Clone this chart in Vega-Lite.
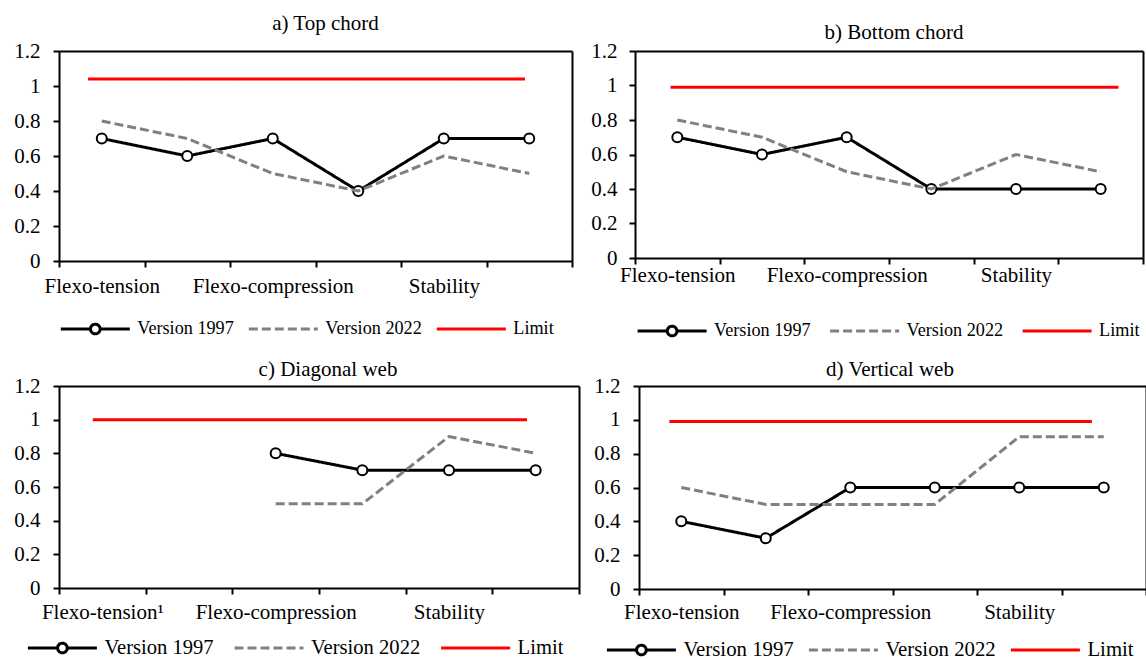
{
  "$schema": "https://vega.github.io/schema/vega-lite/v6.json",
  "background": "white",
  "padding": {"left": 13, "top": 12, "right": 0, "bottom": 0},
  "datasets": {
    "rows": [
      {"panel": "a", "series": "Version 1997", "x": 0.5, "y": 0.7},
      {"panel": "a", "series": "Version 1997", "x": 1.5, "y": 0.6},
      {"panel": "a", "series": "Version 1997", "x": 2.5, "y": 0.7},
      {"panel": "a", "series": "Version 1997", "x": 3.5, "y": 0.4},
      {"panel": "a", "series": "Version 1997", "x": 4.5, "y": 0.7},
      {"panel": "a", "series": "Version 1997", "x": 5.5, "y": 0.7},
      {"panel": "a", "series": "Version 2022", "x": 0.5, "y": 0.8},
      {"panel": "a", "series": "Version 2022", "x": 1.5, "y": 0.7},
      {"panel": "a", "series": "Version 2022", "x": 2.5, "y": 0.5},
      {"panel": "a", "series": "Version 2022", "x": 3.5, "y": 0.4},
      {"panel": "a", "series": "Version 2022", "x": 4.5, "y": 0.6},
      {"panel": "a", "series": "Version 2022", "x": 5.5, "y": 0.5},
      {"panel": "a", "series": "Limit", "x": 0.34, "y": 1.04},
      {"panel": "a", "series": "Limit", "x": 5.45, "y": 1.04},
      {"panel": "b", "series": "Version 1997", "x": 0.5, "y": 0.7},
      {"panel": "b", "series": "Version 1997", "x": 1.5, "y": 0.6},
      {"panel": "b", "series": "Version 1997", "x": 2.5, "y": 0.7},
      {"panel": "b", "series": "Version 1997", "x": 3.5, "y": 0.4},
      {"panel": "b", "series": "Version 1997", "x": 4.5, "y": 0.4},
      {"panel": "b", "series": "Version 1997", "x": 5.5, "y": 0.4},
      {"panel": "b", "series": "Version 2022", "x": 0.5, "y": 0.8},
      {"panel": "b", "series": "Version 2022", "x": 1.5, "y": 0.7},
      {"panel": "b", "series": "Version 2022", "x": 2.5, "y": 0.5},
      {"panel": "b", "series": "Version 2022", "x": 3.5, "y": 0.4},
      {"panel": "b", "series": "Version 2022", "x": 4.5, "y": 0.6},
      {"panel": "b", "series": "Version 2022", "x": 5.5, "y": 0.5},
      {"panel": "b", "series": "Limit", "x": 0.42, "y": 0.99},
      {"panel": "b", "series": "Limit", "x": 5.71, "y": 0.99},
      {"panel": "c", "series": "Version 1997", "x": 2.5, "y": 0.8},
      {"panel": "c", "series": "Version 1997", "x": 3.5, "y": 0.7},
      {"panel": "c", "series": "Version 1997", "x": 4.5, "y": 0.7},
      {"panel": "c", "series": "Version 1997", "x": 5.5, "y": 0.7},
      {"panel": "c", "series": "Version 2022", "x": 2.5, "y": 0.5},
      {"panel": "c", "series": "Version 2022", "x": 3.5, "y": 0.5},
      {"panel": "c", "series": "Version 2022", "x": 4.5, "y": 0.9},
      {"panel": "c", "series": "Version 2022", "x": 5.5, "y": 0.8},
      {"panel": "c", "series": "Limit", "x": 0.39, "y": 1.0},
      {"panel": "c", "series": "Limit", "x": 5.4, "y": 1.0},
      {"panel": "d", "series": "Version 1997", "x": 0.5, "y": 0.4},
      {"panel": "d", "series": "Version 1997", "x": 1.5, "y": 0.3},
      {"panel": "d", "series": "Version 1997", "x": 2.5, "y": 0.6},
      {"panel": "d", "series": "Version 1997", "x": 3.5, "y": 0.6},
      {"panel": "d", "series": "Version 1997", "x": 4.5, "y": 0.6},
      {"panel": "d", "series": "Version 1997", "x": 5.5, "y": 0.6},
      {"panel": "d", "series": "Version 2022", "x": 0.5, "y": 0.6},
      {"panel": "d", "series": "Version 2022", "x": 1.5, "y": 0.5},
      {"panel": "d", "series": "Version 2022", "x": 2.5, "y": 0.5},
      {"panel": "d", "series": "Version 2022", "x": 3.5, "y": 0.5},
      {"panel": "d", "series": "Version 2022", "x": 4.5, "y": 0.9},
      {"panel": "d", "series": "Version 2022", "x": 5.5, "y": 0.9},
      {"panel": "d", "series": "Limit", "x": 0.36, "y": 0.99},
      {"panel": "d", "series": "Limit", "x": 5.36, "y": 0.99}
    ]
  },
  "data": {"name": "rows"},
  "bounds": "full",
  "spacing": 18,
  "resolve": {"legend": {"color": "independent", "strokeDash": "independent"}, "axis": {"x": "independent", "y": "independent"}},
  "vconcat": [
    {
      "hconcat": [
        {
          "width": 513, "height": 210,
          "title": {"text": "a) Top chord", "offset": 6.5, "dx": 10},
          "transform": [{"filter": "datum.panel == 'a'"}],
          "resolve": {"axis": {"x": "independent", "y": "independent"}},
          "layer": [
            {"transform": [{"filter": "datum.series == 'Version 1997'"}],
             "mark": {"type": "line", "strokeWidth": 3},
             "encoding": {
               "x": {"field": "x", "type": "quantitative", "scale": {"domain": [0, 6], "nice": false, "zero": false},
                     "axis": {"title": null, "values": [0, 1, 2, 3, 4, 5, 6], "labelExpr": "datum.value == 0 ? 'Flexo-tension' : datum.value == 2 ? 'Flexo-compression' : datum.value == 4 ? 'Stability' : ''", "labelOffset": 42.8, "labelPadding": 8, "labelOverlap": false, "labelFlush": false, "labelBound": false}},
               "y": {"field": "y", "type": "quantitative", "scale": {"domain": [0, 1.2], "nice": false},
                     "axis": {"title": null, "values": [0, 0.2, 0.4, 0.6, 0.8, 1, 1.2], "format": "~g", "labelPadding": 13}},
               "color": {"field": "series", "type": "nominal", "scale": {"domain": ["Version 1997", "Version 2022", "Limit"], "range": ["#000000", "#808080", "#ff0000"]},
                 "legend": {"title": null, "orient": "none", "legendX": 0.3, "legendY": 268, "direction": "horizontal", "symbolType": "stroke", "symbolSize": 4761, "symbolStrokeWidth": 3, "clipHeight": 20, "labelFontSize": 18.2, "labelOffset": 6, "columnPadding": 13, "padding": 0,
                   "encode": {"symbols": {"update": {"shape": {"signal": "datum.value == 'Version 1997' ? 'M-1,0H-0.14M0.14,0H1M0.14,0A0.14,0.14,0,1,1,-0.14,0A0.14,0.14,0,1,1,0.14,0' : 'M-1,0H1'"}, "fill": {"value": "white"}}}}}},
               "strokeDash": {"field": "series", "type": "nominal", "scale": {"domain": ["Version 1997", "Version 2022", "Limit"], "range": [[1, 0], [9, 4], [1, 0]]},
                 "legend": {"title": null, "orient": "none", "legendX": 0.3, "legendY": 268, "direction": "horizontal", "symbolType": "stroke", "symbolSize": 4761, "symbolStrokeWidth": 3, "clipHeight": 20, "labelFontSize": 18.2, "labelOffset": 6, "columnPadding": 13, "padding": 0,
                   "encode": {"symbols": {"update": {"shape": {"signal": "datum.value == 'Version 1997' ? 'M-1,0H-0.14M0.14,0H1M0.14,0A0.14,0.14,0,1,1,-0.14,0A0.14,0.14,0,1,1,0.14,0' : 'M-1,0H1'"}, "fill": {"value": "white"}}}}}}
             }},
            {"transform": [{"filter": "datum.series == 'Version 1997'"}],
             "mark": {"type": "point", "shape": "circle", "filled": false, "fill": "white", "stroke": "black", "strokeWidth": 2, "size": 100, "opacity": 1},
             "encoding": {
               "x": {"field": "x", "type": "quantitative", "axis": {"orient": "top", "title": null, "labels": false, "ticks": false, "domain": true}},
               "y": {"field": "y", "type": "quantitative", "axis": {"orient": "right", "title": null, "labels": false, "ticks": false, "domain": true}}
             }},
            {"transform": [{"filter": "datum.series != 'Version 1997'"}],
             "mark": {"type": "line", "strokeWidth": 3},
             "encoding": {
               "x": {"field": "x", "type": "quantitative", "axis": null},
               "y": {"field": "y", "type": "quantitative", "axis": null},
               "color": {"field": "series", "type": "nominal", "scale": {"domain": ["Version 1997", "Version 2022", "Limit"], "range": ["#000000", "#808080", "#ff0000"]},
                 "legend": {"title": null, "orient": "none", "legendX": 0.3, "legendY": 268, "direction": "horizontal", "symbolType": "stroke", "symbolSize": 4761, "symbolStrokeWidth": 3, "clipHeight": 20, "labelFontSize": 18.2, "labelOffset": 6, "columnPadding": 13, "padding": 0,
                   "encode": {"symbols": {"update": {"shape": {"signal": "datum.value == 'Version 1997' ? 'M-1,0H-0.14M0.14,0H1M0.14,0A0.14,0.14,0,1,1,-0.14,0A0.14,0.14,0,1,1,0.14,0' : 'M-1,0H1'"}, "fill": {"value": "white"}}}}}},
               "strokeDash": {"field": "series", "type": "nominal", "scale": {"domain": ["Version 1997", "Version 2022", "Limit"], "range": [[1, 0], [9, 4], [1, 0]]},
                 "legend": {"title": null, "orient": "none", "legendX": 0.3, "legendY": 268, "direction": "horizontal", "symbolType": "stroke", "symbolSize": 4761, "symbolStrokeWidth": 3, "clipHeight": 20, "labelFontSize": 18.2, "labelOffset": 6, "columnPadding": 13, "padding": 0,
                   "encode": {"symbols": {"update": {"shape": {"signal": "datum.value == 'Version 1997' ? 'M-1,0H-0.14M0.14,0H1M0.14,0A0.14,0.14,0,1,1,-0.14,0A0.14,0.14,0,1,1,0.14,0' : 'M-1,0H1'"}, "fill": {"value": "white"}}}}}},
               "detail": {"field": "series"}
             }}
          ]
        },
        {
          "width": 508, "height": 207,
          "title": {"text": "b) Bottom chord", "offset": -2.5, "dx": 5},
          "transform": [{"filter": "datum.panel == 'b'"}],
          "resolve": {"axis": {"x": "independent", "y": "independent"}},
          "layer": [
            {"transform": [{"filter": "datum.series == 'Version 1997'"}],
             "mark": {"type": "line", "strokeWidth": 3},
             "encoding": {
               "x": {"field": "x", "type": "quantitative", "scale": {"domain": [0, 6], "nice": false, "zero": false},
                     "axis": {"title": null, "values": [0, 1, 2, 3, 4, 5, 6], "labelExpr": "datum.value == 0 ? 'Flexo-tension' : datum.value == 2 ? 'Flexo-compression' : datum.value == 4 ? 'Stability' : ''", "labelOffset": 42.3, "labelPadding": 0, "labelOverlap": false, "labelFlush": false, "labelBound": false}},
               "y": {"field": "y", "type": "quantitative", "scale": {"domain": [0, 1.2], "nice": false},
                     "axis": {"title": null, "values": [0, 0.2, 0.4, 0.6, 0.8, 1, 1.2], "format": "~g", "labelPadding": 12}},
               "color": {"field": "series", "type": "nominal", "scale": {"domain": ["Version 1997", "Version 2022", "Limit"], "range": ["#000000", "#808080", "#ff0000"]},
                 "legend": {"title": null, "orient": "none", "legendX": 1.1, "legendY": 270, "direction": "horizontal", "symbolType": "stroke", "symbolSize": 4761, "symbolStrokeWidth": 3, "clipHeight": 20, "labelFontSize": 18.2, "labelOffset": 6, "columnPadding": 17.5, "padding": 0,
                   "encode": {"symbols": {"update": {"shape": {"signal": "datum.value == 'Version 1997' ? 'M-1,0H-0.14M0.14,0H1M0.14,0A0.14,0.14,0,1,1,-0.14,0A0.14,0.14,0,1,1,0.14,0' : 'M-1,0H1'"}, "fill": {"value": "white"}}}}}},
               "strokeDash": {"field": "series", "type": "nominal", "scale": {"domain": ["Version 1997", "Version 2022", "Limit"], "range": [[1, 0], [9, 4], [1, 0]]},
                 "legend": {"title": null, "orient": "none", "legendX": 1.1, "legendY": 270, "direction": "horizontal", "symbolType": "stroke", "symbolSize": 4761, "symbolStrokeWidth": 3, "clipHeight": 20, "labelFontSize": 18.2, "labelOffset": 6, "columnPadding": 17.5, "padding": 0,
                   "encode": {"symbols": {"update": {"shape": {"signal": "datum.value == 'Version 1997' ? 'M-1,0H-0.14M0.14,0H1M0.14,0A0.14,0.14,0,1,1,-0.14,0A0.14,0.14,0,1,1,0.14,0' : 'M-1,0H1'"}, "fill": {"value": "white"}}}}}}
             }},
            {"transform": [{"filter": "datum.series == 'Version 1997'"}],
             "mark": {"type": "point", "shape": "circle", "filled": false, "fill": "white", "stroke": "black", "strokeWidth": 2, "size": 100, "opacity": 1},
             "encoding": {
               "x": {"field": "x", "type": "quantitative", "axis": {"orient": "top", "title": null, "labels": false, "ticks": false, "domain": true}},
               "y": {"field": "y", "type": "quantitative", "axis": {"orient": "right", "title": null, "labels": false, "ticks": false, "domain": true}}
             }},
            {"transform": [{"filter": "datum.series != 'Version 1997'"}],
             "mark": {"type": "line", "strokeWidth": 3},
             "encoding": {
               "x": {"field": "x", "type": "quantitative", "axis": null},
               "y": {"field": "y", "type": "quantitative", "axis": null},
               "color": {"field": "series", "type": "nominal", "scale": {"domain": ["Version 1997", "Version 2022", "Limit"], "range": ["#000000", "#808080", "#ff0000"]},
                 "legend": {"title": null, "orient": "none", "legendX": 1.1, "legendY": 270, "direction": "horizontal", "symbolType": "stroke", "symbolSize": 4761, "symbolStrokeWidth": 3, "clipHeight": 20, "labelFontSize": 18.2, "labelOffset": 6, "columnPadding": 17.5, "padding": 0,
                   "encode": {"symbols": {"update": {"shape": {"signal": "datum.value == 'Version 1997' ? 'M-1,0H-0.14M0.14,0H1M0.14,0A0.14,0.14,0,1,1,-0.14,0A0.14,0.14,0,1,1,0.14,0' : 'M-1,0H1'"}, "fill": {"value": "white"}}}}}},
               "strokeDash": {"field": "series", "type": "nominal", "scale": {"domain": ["Version 1997", "Version 2022", "Limit"], "range": [[1, 0], [9, 4], [1, 0]]},
                 "legend": {"title": null, "orient": "none", "legendX": 1.1, "legendY": 270, "direction": "horizontal", "symbolType": "stroke", "symbolSize": 4761, "symbolStrokeWidth": 3, "clipHeight": 20, "labelFontSize": 18.2, "labelOffset": 6, "columnPadding": 17.5, "padding": 0,
                   "encode": {"symbols": {"update": {"shape": {"signal": "datum.value == 'Version 1997' ? 'M-1,0H-0.14M0.14,0H1M0.14,0A0.14,0.14,0,1,1,-0.14,0A0.14,0.14,0,1,1,0.14,0' : 'M-1,0H1'"}, "fill": {"value": "white"}}}}}},
               "detail": {"field": "series"}
             }}
          ]
        }
      ],
      "bounds": "flush",
      "spacing": 63,
      "resolve": {"legend": {"color": "independent", "strokeDash": "independent"}, "axis": {"x": "independent", "y": "independent"}}
    },
    {
      "hconcat": [
        {
          "width": 520, "height": 202,
          "title": {"text": "c) Diagonal web", "offset": -5, "dx": 9},
          "transform": [{"filter": "datum.panel == 'c'"}],
          "resolve": {"axis": {"x": "independent", "y": "independent"}},
          "layer": [
            {"transform": [{"filter": "datum.series == 'Version 1997'"}],
             "mark": {"type": "line", "strokeWidth": 3},
             "encoding": {
               "x": {"field": "x", "type": "quantitative", "scale": {"domain": [0, 6], "nice": false, "zero": false},
                     "axis": {"title": null, "values": [0, 1, 2, 3, 4, 5, 6], "labelExpr": "datum.value == 0 ? 'Flexo-tension¹' : datum.value == 2 ? 'Flexo-compression' : datum.value == 4 ? 'Stability' : ''", "labelOffset": 43.3, "labelPadding": 7, "labelOverlap": false, "labelFlush": false, "labelBound": false}},
               "y": {"field": "y", "type": "quantitative", "scale": {"domain": [0, 1.2], "nice": false},
                     "axis": {"title": null, "values": [0, 0.2, 0.4, 0.6, 0.8, 1, 1.2], "format": "~g", "labelPadding": 13}},
               "color": {"field": "series", "type": "nominal", "scale": {"domain": ["Version 1997", "Version 2022", "Limit"], "range": ["#000000", "#808080", "#ff0000"]},
                 "legend": {"title": null, "orient": "none", "legendX": -32.6, "legendY": 251, "direction": "horizontal", "symbolType": "stroke", "symbolSize": 4761, "symbolStrokeWidth": 3, "clipHeight": 22, "labelFontSize": 20.6, "labelOffset": 6, "columnPadding": 18.6, "padding": 0,
                   "encode": {"symbols": {"update": {"shape": {"signal": "datum.value == 'Version 1997' ? 'M-1,0H-0.14M0.14,0H1M0.14,0A0.14,0.14,0,1,1,-0.14,0A0.14,0.14,0,1,1,0.14,0' : 'M-1,0H1'"}, "fill": {"value": "white"}}}}}},
               "strokeDash": {"field": "series", "type": "nominal", "scale": {"domain": ["Version 1997", "Version 2022", "Limit"], "range": [[1, 0], [9, 4], [1, 0]]},
                 "legend": {"title": null, "orient": "none", "legendX": -32.6, "legendY": 251, "direction": "horizontal", "symbolType": "stroke", "symbolSize": 4761, "symbolStrokeWidth": 3, "clipHeight": 22, "labelFontSize": 20.6, "labelOffset": 6, "columnPadding": 18.6, "padding": 0,
                   "encode": {"symbols": {"update": {"shape": {"signal": "datum.value == 'Version 1997' ? 'M-1,0H-0.14M0.14,0H1M0.14,0A0.14,0.14,0,1,1,-0.14,0A0.14,0.14,0,1,1,0.14,0' : 'M-1,0H1'"}, "fill": {"value": "white"}}}}}}
             }},
            {"transform": [{"filter": "datum.series == 'Version 1997'"}],
             "mark": {"type": "point", "shape": "circle", "filled": false, "fill": "white", "stroke": "black", "strokeWidth": 2, "size": 100, "opacity": 1},
             "encoding": {
               "x": {"field": "x", "type": "quantitative", "axis": {"orient": "top", "title": null, "labels": false, "ticks": false, "domain": true}},
               "y": {"field": "y", "type": "quantitative", "axis": {"orient": "right", "title": null, "labels": false, "ticks": false, "domain": true}}
             }},
            {"transform": [{"filter": "datum.series != 'Version 1997'"}],
             "mark": {"type": "line", "strokeWidth": 3},
             "encoding": {
               "x": {"field": "x", "type": "quantitative", "axis": null},
               "y": {"field": "y", "type": "quantitative", "axis": null},
               "color": {"field": "series", "type": "nominal", "scale": {"domain": ["Version 1997", "Version 2022", "Limit"], "range": ["#000000", "#808080", "#ff0000"]},
                 "legend": {"title": null, "orient": "none", "legendX": -32.6, "legendY": 251, "direction": "horizontal", "symbolType": "stroke", "symbolSize": 4761, "symbolStrokeWidth": 3, "clipHeight": 22, "labelFontSize": 20.6, "labelOffset": 6, "columnPadding": 18.6, "padding": 0,
                   "encode": {"symbols": {"update": {"shape": {"signal": "datum.value == 'Version 1997' ? 'M-1,0H-0.14M0.14,0H1M0.14,0A0.14,0.14,0,1,1,-0.14,0A0.14,0.14,0,1,1,0.14,0' : 'M-1,0H1'"}, "fill": {"value": "white"}}}}}},
               "strokeDash": {"field": "series", "type": "nominal", "scale": {"domain": ["Version 1997", "Version 2022", "Limit"], "range": [[1, 0], [9, 4], [1, 0]]},
                 "legend": {"title": null, "orient": "none", "legendX": -32.6, "legendY": 251, "direction": "horizontal", "symbolType": "stroke", "symbolSize": 4761, "symbolStrokeWidth": 3, "clipHeight": 22, "labelFontSize": 20.6, "labelOffset": 6, "columnPadding": 18.6, "padding": 0,
                   "encode": {"symbols": {"update": {"shape": {"signal": "datum.value == 'Version 1997' ? 'M-1,0H-0.14M0.14,0H1M0.14,0A0.14,0.14,0,1,1,-0.14,0A0.14,0.14,0,1,1,0.14,0' : 'M-1,0H1'"}, "fill": {"value": "white"}}}}}},
               "detail": {"field": "series"}
             }}
          ]
        },
        {
          "width": 507, "height": 203,
          "title": {"text": "d) Vertical web", "offset": -5, "dx": -2.5},
          "transform": [{"filter": "datum.panel == 'd'"}],
          "resolve": {"axis": {"x": "independent", "y": "independent"}},
          "layer": [
            {"transform": [{"filter": "datum.series == 'Version 1997'"}],
             "mark": {"type": "line", "strokeWidth": 3},
             "encoding": {
               "x": {"field": "x", "type": "quantitative", "scale": {"domain": [0, 6], "nice": false, "zero": false},
                     "axis": {"title": null, "values": [0, 1, 2, 3, 4, 5, 6], "labelExpr": "datum.value == 0 ? 'Flexo-tension' : datum.value == 2 ? 'Flexo-compression' : datum.value == 4 ? 'Stability' : ''", "labelOffset": 42.25, "labelPadding": 6, "labelOverlap": false, "labelFlush": false, "labelBound": false}},
               "y": {"field": "y", "type": "quantitative", "scale": {"domain": [0, 1.2], "nice": false},
                     "axis": {"title": null, "values": [0, 0.2, 0.4, 0.6, 0.8, 1, 1.2], "format": "~g", "labelPadding": 13}},
               "color": {"field": "series", "type": "nominal", "scale": {"domain": ["Version 1997", "Version 2022", "Limit"], "range": ["#000000", "#808080", "#ff0000"]},
                 "legend": {"title": null, "orient": "none", "legendX": -33.6, "legendY": 253, "direction": "horizontal", "symbolType": "stroke", "symbolSize": 4761, "symbolStrokeWidth": 3, "clipHeight": 22, "labelFontSize": 20.8, "labelOffset": 6, "columnPadding": 13, "padding": 0,
                   "encode": {"symbols": {"update": {"shape": {"signal": "datum.value == 'Version 1997' ? 'M-1,0H-0.14M0.14,0H1M0.14,0A0.14,0.14,0,1,1,-0.14,0A0.14,0.14,0,1,1,0.14,0' : 'M-1,0H1'"}, "fill": {"value": "white"}}}}}},
               "strokeDash": {"field": "series", "type": "nominal", "scale": {"domain": ["Version 1997", "Version 2022", "Limit"], "range": [[1, 0], [9, 4], [1, 0]]},
                 "legend": {"title": null, "orient": "none", "legendX": -33.6, "legendY": 253, "direction": "horizontal", "symbolType": "stroke", "symbolSize": 4761, "symbolStrokeWidth": 3, "clipHeight": 22, "labelFontSize": 20.8, "labelOffset": 6, "columnPadding": 13, "padding": 0,
                   "encode": {"symbols": {"update": {"shape": {"signal": "datum.value == 'Version 1997' ? 'M-1,0H-0.14M0.14,0H1M0.14,0A0.14,0.14,0,1,1,-0.14,0A0.14,0.14,0,1,1,0.14,0' : 'M-1,0H1'"}, "fill": {"value": "white"}}}}}}
             }},
            {"transform": [{"filter": "datum.series == 'Version 1997'"}],
             "mark": {"type": "point", "shape": "circle", "filled": false, "fill": "white", "stroke": "black", "strokeWidth": 2, "size": 100, "opacity": 1},
             "encoding": {
               "x": {"field": "x", "type": "quantitative", "axis": {"orient": "top", "title": null, "labels": false, "ticks": false, "domain": true}},
               "y": {"field": "y", "type": "quantitative", "axis": {"orient": "right", "title": null, "labels": false, "ticks": false, "domain": true}}
             }},
            {"transform": [{"filter": "datum.series != 'Version 1997'"}],
             "mark": {"type": "line", "strokeWidth": 3},
             "encoding": {
               "x": {"field": "x", "type": "quantitative", "axis": null},
               "y": {"field": "y", "type": "quantitative", "axis": null},
               "color": {"field": "series", "type": "nominal", "scale": {"domain": ["Version 1997", "Version 2022", "Limit"], "range": ["#000000", "#808080", "#ff0000"]},
                 "legend": {"title": null, "orient": "none", "legendX": -33.6, "legendY": 253, "direction": "horizontal", "symbolType": "stroke", "symbolSize": 4761, "symbolStrokeWidth": 3, "clipHeight": 22, "labelFontSize": 20.8, "labelOffset": 6, "columnPadding": 13, "padding": 0,
                   "encode": {"symbols": {"update": {"shape": {"signal": "datum.value == 'Version 1997' ? 'M-1,0H-0.14M0.14,0H1M0.14,0A0.14,0.14,0,1,1,-0.14,0A0.14,0.14,0,1,1,0.14,0' : 'M-1,0H1'"}, "fill": {"value": "white"}}}}}},
               "strokeDash": {"field": "series", "type": "nominal", "scale": {"domain": ["Version 1997", "Version 2022", "Limit"], "range": [[1, 0], [9, 4], [1, 0]]},
                 "legend": {"title": null, "orient": "none", "legendX": -33.6, "legendY": 253, "direction": "horizontal", "symbolType": "stroke", "symbolSize": 4761, "symbolStrokeWidth": 3, "clipHeight": 22, "labelFontSize": 20.8, "labelOffset": 6, "columnPadding": 13, "padding": 0,
                   "encode": {"symbols": {"update": {"shape": {"signal": "datum.value == 'Version 1997' ? 'M-1,0H-0.14M0.14,0H1M0.14,0A0.14,0.14,0,1,1,-0.14,0A0.14,0.14,0,1,1,0.14,0' : 'M-1,0H1'"}, "fill": {"value": "white"}}}}}},
               "detail": {"field": "series"}
             }}
          ]
        }
      ],
      "bounds": "flush",
      "spacing": 60,
      "resolve": {"legend": {"color": "independent", "strokeDash": "independent"}, "axis": {"x": "independent", "y": "independent"}}
    }
  ],
  "config": {
    "font": "Liberation Serif",
    "view": {"stroke": null},
    "axis": {"labelFont": "Liberation Serif", "labelFontSize": 21, "labelColor": "black", "domainColor": "black", "domainWidth": 2, "tickColor": "black", "tickWidth": 2, "tickSize": 6, "grid": false},
    "legend": {"labelFont": "Liberation Serif", "labelColor": "black"},
    "title": {"font": "Liberation Serif", "fontSize": 21, "fontWeight": "normal", "color": "black", "anchor": "middle", "frame": "group"}
  }
}
